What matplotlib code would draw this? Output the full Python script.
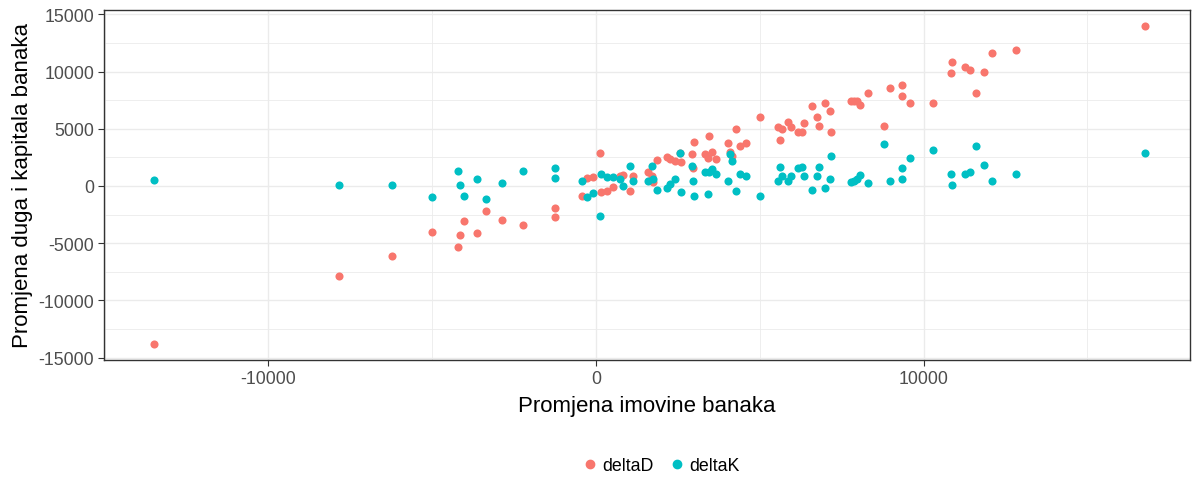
import matplotlib
matplotlib.use("Agg")
import matplotlib.pyplot as plt
from matplotlib.lines import Line2D

plt.rcParams['font.family'] = ['Liberation Sans', 'DejaVu Sans']
plt.rcParams['axes.unicode_minus'] = False

# Promjena imovine (x) te promjena duga (deltaD) i kapitala (deltaK) po banci
promjena_imovine = [
    -13494, -7846, -6228, -5007, -4213, -4150, -4030, -3633, -3358, -2870,
    -2229, -1252, -1252,
    -427, -275, -92, 122, 153, 336, 519, 733, 824, 1038,
    1130, 1588, 1710, 1740, 1862, 2168, 2259, 2412, 2565, 2595,
    2931, 2961, 2992, 3328, 3419, 3450, 3541, 3664, 4030, 4091,
    4152, 4274, 4396, 4580, 5007,
    5556, 5618, 5679, 5862, 5953, 6167, 6289, 6350, 6594, 6747,
    6808, 6991, 7144, 7175, 7785, 7877, 7969, 8060, 8304, 8793,
    8976, 9342, 9342, 9586, 10289, 10838, 10869, 11266, 11418, 11601,
    11846, 12090, 12823, 16761,
]
delta_d = [
    -13809, -7866, -6118, -4020, -5331, -4283, -3059, -4108, -2185, -2972,
    -3409, -2709, -1923,
    -874, 699, 787, 2884, -524, -437, -87, 874, 961, -437,
    874, 1224, 874, 350, 2272, 2535, 2360, 2185, 2884, 2098,
    2797, 1573, 3846, 2797, 2447, 4370, 2972, 2360, 3758, 2972,
    2622, 4982, 3496, 3758, 6031,
    5157, 4020, 4982, 5594, 5157, 4720, 4720, 5506, 6992, 6031,
    5244, 7254, 6555, 4720, 7429, 7429, 7429, 7079, 8128, 5244,
    8565, 8827, 7866, 7254, 7254, 9876, 10838, 10400, 10138, 8128,
    9964, 11624, 11886, 13984,
]
delta_k = [
    524, 87, 87, -961, 1311, 87, -874, 612, -1136, 262,
    1311, 1573, 699,
    437, -961, -612, -2622, 1049, 787, 787, 612, 0, 1748,
    437, 437, 1748, 612, -350, -175, 175, 612, 2884, -524,
    1748, 437, -874, 1224, -699, 1224, 1486, 1049, 437, 2797,
    2185, -437, 1049, 874, -874,
    437, 1660, 874, 437, 874, 1573, 1660, 874, -350, 874,
    1660, -175, 612, 2622, 350, 437, 612, 961, 262, 3671,
    437, 612, 1573, 2447, 3146, 1049, 87, 1049, 1224, 3496,
    1835, 437, 1049, 2884,
]

boja_d = '#F8766D'
boja_k = '#00BFC4'
siva_grid = '#EBEBEB'

fig = plt.figure(figsize=(11.96, 4.81), dpi=100)
ax = fig.add_axes([104 / 1196, 1 - 361 / 481, (1190 - 104) / 1196, 350 / 481])

ax.scatter(promjena_imovine, delta_d, s=34, color=boja_d, linewidths=0, zorder=3)
ax.scatter(promjena_imovine, delta_k, s=34, color=boja_k, linewidths=0, zorder=3)

ax.set_xlim(-15021, 18135)
ax.set_ylim(-15208, 15382)

ax.set_xticks([-10000, 0, 10000])
ax.set_xticks([-15000, -5000, 5000, 15000], minor=True)
ax.set_yticks(list(range(-15000, 15001, 5000)))
ax.set_yticks(list(range(-12500, 12501, 5000)), minor=True)

ax.grid(True, which='major', color=siva_grid, linewidth=1.0, zorder=0)
ax.grid(True, which='minor', color=siva_grid, linewidth=0.6, zorder=0)
ax.set_axisbelow(True)

for s in ax.spines.values():
    s.set_color('#333333')
    s.set_linewidth(1.0)

ax.tick_params(which='major', length=4, width=0.8, color='#333333',
               labelsize=12.8, labelcolor='#4D4D4D', pad=3)
ax.tick_params(which='minor', length=0)

ax.set_xlabel('Promjena imovine banaka', fontsize=16, labelpad=6)
ax.set_ylabel('Promjena duga i kapitala banaka', fontsize=16, labelpad=4)

handles = [
    Line2D([], [], marker='o', linestyle='', color=boja_d, markersize=6),
    Line2D([], [], marker='o', linestyle='', color=boja_k, markersize=6),
]
fig.legend(handles, ['deltaD', 'deltaK'], loc='center',
           bbox_to_anchor=(660 / 1196, 1 - 467 / 481), ncol=2, frameon=False,
           fontsize=12.8, handletextpad=0.2, columnspacing=0.8, handlelength=1.0)

fig.savefig('out.png', dpi=100)
